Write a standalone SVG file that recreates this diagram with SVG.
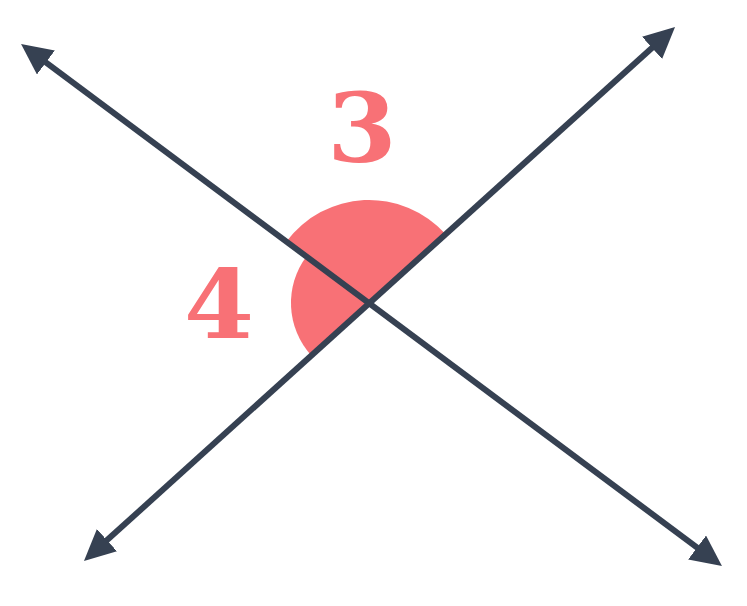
<svg xmlns="http://www.w3.org/2000/svg" width="747" height="606" viewBox="0 0 747 606">
<style>
.ln{stroke:#364152;stroke-width:6;fill:none}
.ang{fill:#f87176}
.lbl{font-family:"DejaVu Serif","Liberation Serif",serif;font-weight:bold;font-size:95px;fill:#f87176;text-anchor:middle}
</style>
<defs>
<marker id="ah" markerUnits="userSpaceOnUse" markerWidth="31" markerHeight="30" viewBox="0 0 31 30" refX="11" refY="15" orient="auto-start-reverse">
<path d="M0,0 L31,15 L0,30 Z" fill="#364152"/>
</marker>
</defs>
<rect width="747" height="606" fill="#ffffff"/>
<g id="angle3"><path class="ang" d="M369,303 L445.5,234 A103,103 0 0 0 286.4,241.5 Z"/></g>
<g id="angle4"><path class="ang" d="M369,303 L306.4,256.4 A78,78 0 0 0 311.2,355.4 Z"/></g>
<g id="connectors">
<line class="ln" x1="37.1" y1="55.9" x2="705.9" y2="554.1" marker-start="url(#ah)" marker-end="url(#ah)"/>
<line class="ln" x1="660.2" y1="40.4" x2="98.8" y2="547.6" marker-start="url(#ah)" marker-end="url(#ah)"/>
</g>
<g id="labels">
<text class="lbl" x="362" y="162" transform="translate(362 0) scale(1.05 1) translate(-362 0)">3</text>
<text class="lbl" x="219" y="338" transform="translate(219 0) scale(1.06 1) translate(-219 0)">4</text>
</g>
</svg>
